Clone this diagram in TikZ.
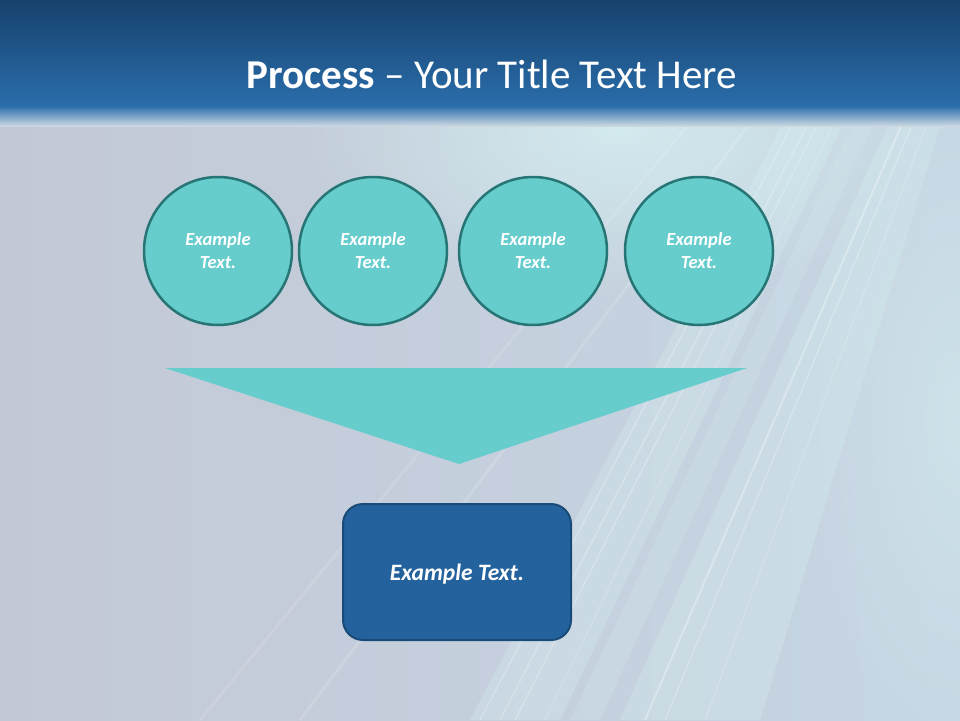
\documentclass[tikz,border=0pt]{standalone}
\usepackage{fontspec}
\setmainfont{Carlito}
\usetikzlibrary{fadings}
\definecolor{bandtop}{HTML}{17426C}
\definecolor{bandbot}{HTML}{2A6DAB}
\definecolor{bgl}{HTML}{C3C8D6}
\definecolor{bgr}{HTML}{C6D6E3}
\definecolor{teal}{HTML}{66CCCC}
\definecolor{tealdark}{HTML}{277575}
\definecolor{boxblue}{HTML}{23629C}
\definecolor{boxedge}{HTML}{1A4A78}
\definecolor{glow}{HTML}{D6F0F2}
\tikzfading[name=softglow, inner color=transparent!20, outer color=transparent!100]
\tikzset{
  stepcircle/.style={circle, minimum size=148pt, inner sep=0pt, fill=teal, draw=tealdark, line width=2.5pt,
    text=white, font=\fontsize{18.5}{23}\selectfont\bfseries\itshape, align=center},
  resultbox/.style={rectangle, rounded corners=20pt, minimum width=228pt, minimum height=136pt, fill=boxblue,
    draw=boxedge, line width=2pt, text=white, text depth=0pt, font=\fontsize{23.5}{28}\selectfont\bfseries\itshape},
  streak/.style={white, opacity=0.3, line width=1pt},
  softband/.style={glow, opacity=0.3},
}
\begin{document}
\begin{tikzpicture}[x=1pt,y=-1pt]
\useasboundingbox (0,0) rectangle (960,720);
% background
\shade[left color=bgl, right color=bgr] (0,0) rectangle (960,720);
% glow region
\fill[glow, path fading=softglow] (620,130) ellipse (330 and 170);
\fill[glow, opacity=0.6, path fading=softglow] (960,420) ellipse (160 and 360);
% soft bands
\fill[softband] (790,110) -- (850,110) -- (560,720) -- (470,720) -- cycle;
\fill[softband] (895,110) -- (945,110) -- (760,720) -- (620,720) -- cycle;
\fill[softband, opacity=0.2] (860,110) -- (880,110) -- (600,720) -- (570,720) -- cycle;
% streaks
\draw[streak] (800,110) -- (480,720);
\draw[streak, line width=2pt, opacity=0.2] (815,110) -- (500,720);
\draw[streak] (825,110) -- (515,720);
\draw[streak, opacity=0.2] (840,110) -- (545,720);
\draw[streak, line width=2pt] (908,110) -- (645,720);
\draw[streak] (918,110) -- (665,720);
\draw[streak, opacity=0.2] (932,110) -- (705,720);
\draw[streak, opacity=0.15, line width=3pt] (760,110) -- (300,720);
\draw[streak, opacity=0.12, line width=3pt] (700,110) -- (200,720);
% title band
\shade[top color=bandtop, bottom color=bandbot] (0,0) rectangle (960,106);
\shade[top color=bandbot, bottom color=bgl!60!glow] (0,106) rectangle (960,126);
\node[text=white, font=\fontsize{41}{48}\selectfont] (title) at (492,74) {\textbf{Process} – Your Title Text Here};
% circles
\node[stepcircle] (c1) at (218,251) {Example\\Text.};
\node[stepcircle] (c2) at (373,251) {Example\\Text.};
\node[stepcircle] (c3) at (533,251) {Example\\Text.};
\node[stepcircle] (c4) at (699,251) {Example\\Text.};
% funnel triangle
\coordinate (tl) at (165,368);
\coordinate (tr) at (747,368);
\coordinate (tb) at (459,464);
\fill[teal] (tl) -- (tr) -- (tb) -- cycle;
% result box
\node[resultbox] (res) at (457,572) {Example Text.};
\end{tikzpicture}
\end{document}
